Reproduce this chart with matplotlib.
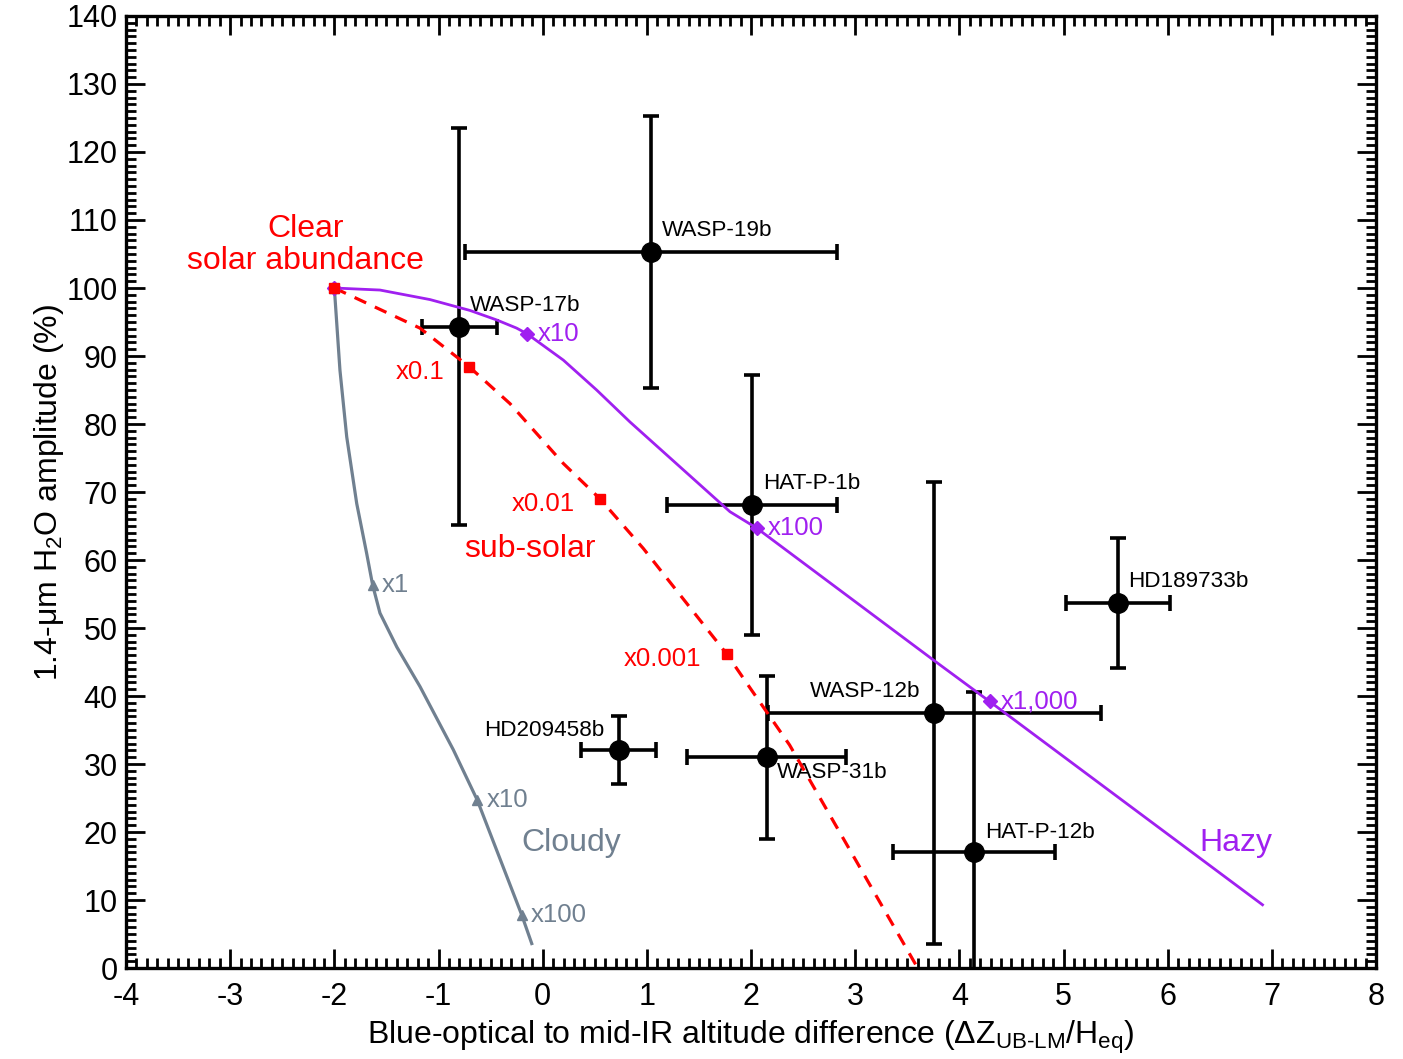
import matplotlib
matplotlib.use("Agg")
import matplotlib.pyplot as plt
from matplotlib.ticker import MultipleLocator

plt.rcParams['font.family'] = ['Liberation Sans', 'DejaVu Sans']
plt.rcParams['mathtext.fontset'] = 'custom'
plt.rcParams['mathtext.rm'] = 'Liberation Sans'
plt.rcParams['mathtext.it'] = 'Liberation Sans:italic'
plt.rcParams['axes.unicode_minus'] = False

# observed planets
planets = ["WASP-19b", "WASP-17b", "HAT-P-1b", "HD189733b",
           "WASP-12b", "HD209458b", "WASP-31b", "HAT-P-12b"]
dz = [1.04, -0.80, 2.01, 5.52, 3.76, 0.73, 2.15, 4.14]
dz_err = [1.79, 0.36, 0.82, 0.50, 1.60, 0.36, 0.76, 0.78]
amp = [105.3, 94.3, 68.1, 53.7, 37.5, 32.1, 31.0, 17.1]
amp_err = [20.0, 29.2, 19.1, 9.6, 34.0, 5.0, 12.0, 23.5]
# label anchor (left, middle) for each planet
label_xy = [(1.145, 108.4), (-0.70, 97.5), (2.115, 71.2), (5.62, 56.8),
            (2.566, 40.6), (-0.563, 35.0), (2.25, 28.7), (4.246, 20.0)]

# model tracks
hazy_x = [-2.0, -1.562, -1.082, -0.698, -0.441, -0.250, -0.153, 0.198, 0.518,
          0.838, 1.158, 1.478, 1.798, 2.054, 3.75, 4.29, 6.91]
hazy_y = [100.0, 99.7, 98.3, 96.7, 95.3, 94.1, 93.3, 89.4, 85.0,
          80.3, 75.9, 71.5, 67.1, 64.7, 45.3, 39.2, 9.3]
hazy_mk_x = [-2.0, -0.153, 2.054, 4.29]
hazy_mk_y = [100.0, 93.3, 64.7, 39.2]
hazy_mk_lab = ["", "x10", "x100", "x1,000"]

sub_x = [-2.0, -1.178, -0.704, -0.314, 0.198, 0.550, 0.966, 1.766, 1.99, 2.37, 3.60]
sub_y = [100.0, 94.1, 88.4, 83.0, 74.2, 69.0, 61.7, 46.2, 41.2, 32.8, 0.0]
sub_mk_x = [-2.0, -0.704, 0.550, 1.766]
sub_mk_y = [100.0, 88.4, 69.0, 46.2]
sub_mk_lab = ["", "x0.1", "x0.01", "x0.001"]

cloud_x = [-2.0, -1.946, -1.881, -1.785, -1.69, -1.632, -1.562, -1.40,
           -1.178, -0.858, -0.628, -0.201, -0.105]
cloud_y = [100.0, 87.9, 78.1, 68.3, 61.0, 56.3, 52.2, 47.2,
           41.4, 32.1, 24.7, 7.8, 3.6]
cloud_mk_x = [-2.0, -1.632, -0.628, -0.201]
cloud_mk_y = [100.0, 56.3, 24.7, 7.8]
cloud_mk_lab = ["", "x1", "x10", "x100"]

purple = '#A020F0'
red = '#FF0000'
grey = '#708090'

fig = plt.figure(figsize=(14.03, 10.59), dpi=100)
ax = fig.add_axes([0.0898, 0.0859, 0.891, 0.899])

ax.errorbar(dz, amp, xerr=dz_err, yerr=amp_err, fmt='o', color='black',
            ms=14, elinewidth=2.6, capsize=5.5, capthick=2.6, zorder=3)
for name, (lx, ly) in zip(planets, label_xy):
    ax.text(lx, ly, name, fontsize=16.2, ha='left', va='center', zorder=4)

ax.plot(hazy_x, hazy_y, color=purple, lw=2.0, zorder=5)
ax.plot(hazy_mk_x, hazy_mk_y, 'D', color=purple, ms=7, ls='none', zorder=6)
for x, y, s in zip(hazy_mk_x, hazy_mk_y, hazy_mk_lab):
    ax.text(x + 0.11, y, s, color=purple, fontsize=18.5, ha='left', va='center', zorder=6)

ax.plot(sub_x, sub_y, color=red, lw=2.3, ls=(0, (4, 3)), zorder=5)
ax.plot(sub_mk_x, sub_mk_y, 's', color=red, ms=6.5, ls='none', zorder=7)
for x, y, s in zip(sub_mk_x, sub_mk_y, sub_mk_lab):
    ax.text(x - 0.24, y - 0.8, s, color=red, fontsize=18.5, ha='right', va='center', zorder=6)

ax.plot(cloud_x, cloud_y, color=grey, lw=2.3, zorder=5)
ax.plot(cloud_mk_x, cloud_mk_y, '^', color=grey, ms=7, ls='none', zorder=6)
for x, y, s in zip(cloud_mk_x, cloud_mk_y, cloud_mk_lab):
    ax.text(x + 0.09, y, s, color=grey, fontsize=18.5, ha='left', va='center', zorder=6)

ax.text(-2.28, 106.3, "Clear\nsolar abundance", color=red, fontsize=23,
        ha='center', va='center', linespacing=1.08)
ax.text(-0.12, 61.6, "sub-solar", color=red, fontsize=23, ha='center', va='center')
ax.text(0.27, 18.4, "Cloudy", color=grey, fontsize=23, ha='center', va='center')
ax.text(6.65, 18.4, "Hazy", color=purple, fontsize=23, ha='center', va='center')

ax.set_xlim(-4, 8)
ax.set_ylim(0, 140)
ax.xaxis.set_major_locator(MultipleLocator(1))
ax.xaxis.set_minor_locator(MultipleLocator(0.1))
ax.yaxis.set_major_locator(MultipleLocator(10))
ax.yaxis.set_minor_locator(MultipleLocator(1))
ax.tick_params(which='both', direction='in', top=True, right=True,
               labelsize=22, width=2)
ax.tick_params(which='major', length=14)
ax.tick_params(which='minor', length=7)
ax.tick_params(axis='x', pad=10)
ax.tick_params(axis='y', pad=6)
for sp in ax.spines.values():
    sp.set_linewidth(2.4)

ax.set_xlabel(r"Blue-optical to mid-IR altitude difference (ΔZ$_{\text{UB-LM}}$/H$_{\text{eq}}$)",
              fontsize=23, labelpad=5)
ax.set_ylabel(r"1.4-μm H$_{\text{2}}$O amplitude (%)", fontsize=23, labelpad=0)

fig.savefig("out.png", dpi=100)
